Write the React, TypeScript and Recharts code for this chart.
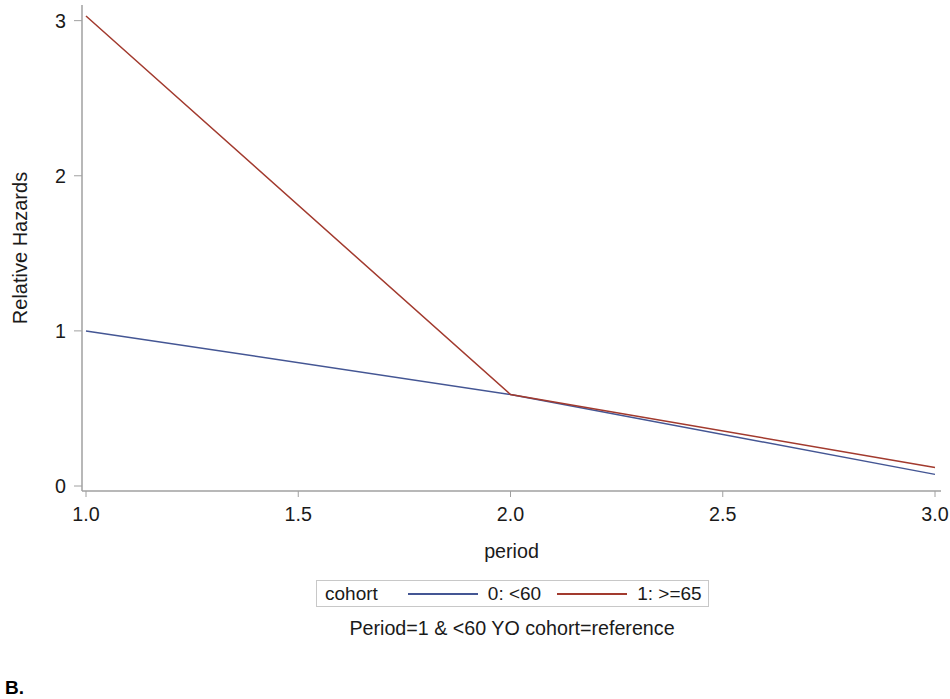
import React from "react";
import { LineChart, Line, XAxis, YAxis } from "recharts";

const periods = [1, 2, 3];
const cohort0 = [1.0, 0.59, 0.075]; // 0: <60
const cohort1 = [3.03, 0.59, 0.12]; // 1: >=65
const xTicks = [1, 1.5, 2, 2.5, 3];
const yTicks = [0, 1, 2, 3];

const data = periods.map((p, i) => ({ period: p, c0: cohort0[i], c1: cohort1[i] }));

const BLUE = "#445694";
const RED = "#A23A2E";
const FRAME = "#a0a0a0";
const FONT = "'Liberation Sans', Arial, sans-serif";
const TEXT = "#1a1a1a";
const FS = 19.7;

const YTitle = (props: any) => {
  const vb = props.viewBox;
  const cy = vb.y + vb.height / 2;
  return (
    <text
      x={20}
      y={cy}
      transform={`rotate(-90 20 ${cy})`}
      textAnchor="middle"
      dominantBaseline="central"
      fontSize={20}
      fill={TEXT}
      fontFamily={FONT}
    >
      Relative Hazards
    </text>
  );
};

const XTitle = (props: any) => {
  const vb = props.viewBox;
  return (
    <text
      x={vb.x + vb.width / 2}
      y={551}
      textAnchor="middle"
      dominantBaseline="central"
      fontSize={FS}
      fill={TEXT}
      fontFamily={FONT}
    >
      period
    </text>
  );
};

const Swatch = ({ color }: { color: string }) => (
  <span style={{ display: "inline-block", width: 70, height: 2, background: color, margin: "0 10px 0 0" }} />
);

export default function App() {
  return (
    <div style={{ position: "absolute", left: 0, top: 0, width: 950, height: 699, fontFamily: FONT, color: TEXT }}>
      <LineChart width={950} height={699} data={data} margin={{ top: 5, right: 9, bottom: 138, left: 0 }}>
        {/* frame: top and right borders */}
        <XAxis xAxisId="top" orientation="top" dataKey="period" type="number" domain={[1, 3]} height={0} tick={false} tickLine={false} axisLine={{ stroke: FRAME, strokeWidth: 1.5 }} />
        <YAxis yAxisId="right" orientation="right" type="number" domain={[0, 3]} width={0} tick={false} tickLine={false} axisLine={{ stroke: FRAME, strokeWidth: 1.5 }} />

        <XAxis
          dataKey="period"
          type="number"
          domain={[1, 3]}
          ticks={xTicks}
          tickFormatter={(v: number) => v.toFixed(1)}
          padding={{ left: 4, right: 6 }}
          height={70}
          tickSize={6}
          tickMargin={10}
          tick={{ fontSize: FS, fill: TEXT, fontFamily: FONT }}
          tickLine={{ stroke: FRAME }}
          axisLine={{ stroke: FRAME, strokeWidth: 1.5 }}
          label={<XTitle />}
        />
        <YAxis
          type="number"
          domain={[0, 3]}
          ticks={yTicks}
          padding={{ top: 11, bottom: 5 }}
          width={82}
          tickSize={8}
          tickMargin={8}
          tick={{ fontSize: FS, fill: TEXT, fontFamily: FONT }}
          tickLine={{ stroke: FRAME }}
          axisLine={{ stroke: FRAME, strokeWidth: 1.5 }}
          label={<YTitle />}
        />

        <Line type="linear" dataKey="c0" name="0: <60" stroke={BLUE} strokeWidth={1.5} dot={false} isAnimationActive={false} />
        <Line type="linear" dataKey="c1" name="1: >=65" stroke={RED} strokeWidth={1.5} dot={false} isAnimationActive={false} />
      </LineChart>

      {/* legend */}
      <div
        style={{
          position: "absolute",
          left: 316,
          top: 580,
          width: 393,
          height: 27,
          boxSizing: "border-box",
          border: "1px solid #c8c8c8",
          display: "flex",
          alignItems: "center",
          fontSize: 19,
          lineHeight: 1,
          paddingLeft: 8,
          whiteSpace: "nowrap",
        }}
      >
        <span style={{ marginRight: 30 }}>cohort</span>
        <Swatch color={BLUE} />
        <span style={{ marginRight: 16 }}>0: &lt;60</span>
        <Swatch color={RED} />
        <span>1: &gt;=65</span>
      </div>

      {/* footnote */}
      <div style={{ position: "absolute", left: 0, top: 619, width: 1024, textAlign: "center", fontSize: FS, lineHeight: 1 }}>
        Period=1 &amp; &lt;60 YO cohort=reference
      </div>

      <div style={{ position: "absolute", left: 5, top: 678, fontSize: 19, lineHeight: 1, fontWeight: "bold", color: "#000" }}>
        B.
      </div>
    </div>
  );
}
